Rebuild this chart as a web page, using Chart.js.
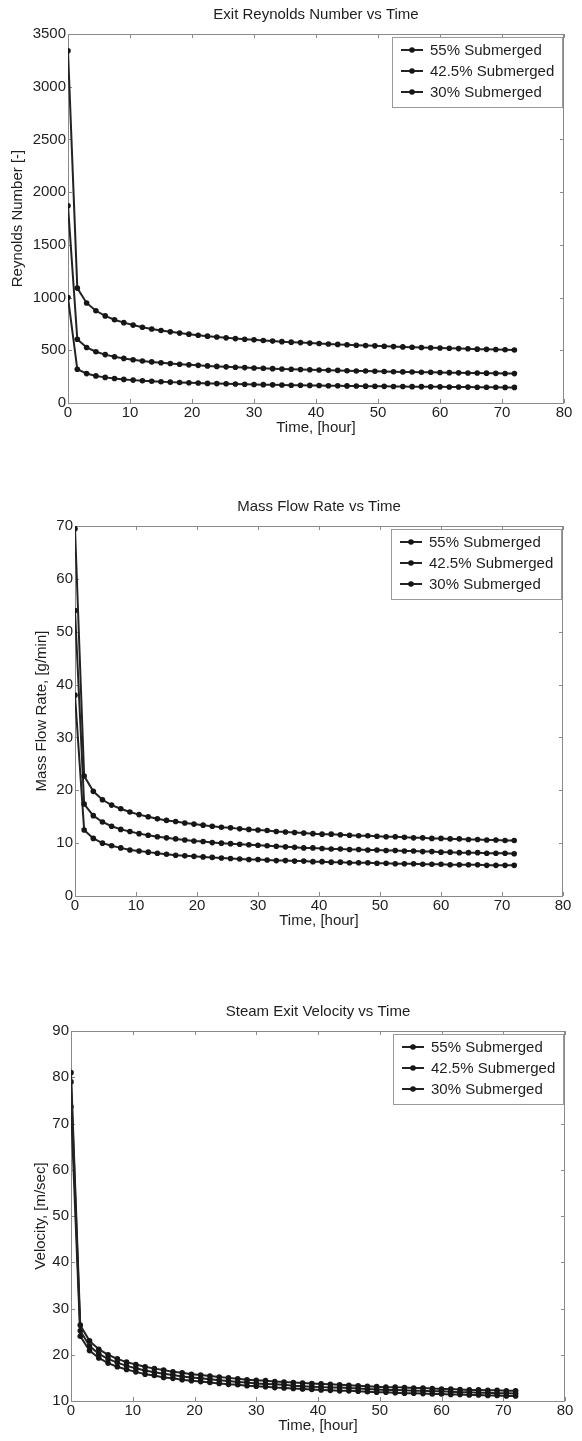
<!DOCTYPE html>
<html>
<head>
<meta charset="utf-8">
<title>Steam exit charts</title>
<script src="https://cdn.jsdelivr.net/npm/chart.js@4.4.1/dist/chart.umd.min.js"></script>
<style>
  html, body { margin: 0; padding: 0; background: #fff; }
  body { width: 582px; height: 1441px; position: relative; overflow: hidden; }
  .plot { position: absolute; left: 0; }
</style>
</head>
<body>
<div class="plot" style="top:0px"><canvas id="reynoldsChart" width="582" height="480"></canvas></div>
<div class="plot" style="top:480px"><canvas id="massFlowChart" width="582" height="480"></canvas></div>
<div class="plot" style="top:960px"><canvas id="velocityChart" width="582" height="481"></canvas></div>

<script>
// Time samples (every 1.5 hours)
const timeHours = [0, 1.5, 3, 4.5, 6, 7.5, 9, 10.5, 12, 13.5, 15, 16.5, 18, 19.5, 21, 22.5, 24, 25.5, 27, 28.5,
  30, 31.5, 33, 34.5, 36, 37.5, 39, 40.5, 42, 43.5, 45, 46.5, 48, 49.5, 51, 52.5, 54, 55.5, 57, 58.5,
  60, 61.5, 63, 64.5, 66, 67.5, 69, 70.5, 72];
const seriesLabels = ["55% Submerged", "42.5% Submerged", "30% Submerged"];

// Exit Reynolds number [-]
const reynolds55 = [3340, 1090, 949, 875, 826, 790, 762, 739, 719, 702, 688, 675, 663, 653, 643, 634, 626, 618, 611, 605,
  599, 593, 587, 582, 577, 573, 568, 564, 560, 556, 552, 548, 545, 542, 538, 535, 532, 529, 527, 524,
  521, 519, 516, 514, 511, 509, 507, 505, 503];
const reynolds425 = [1870, 605, 527, 486, 459, 439, 423, 410, 399, 390, 382, 374, 368, 362, 357, 352, 347, 343, 339, 336,
  332, 329, 326, 323, 320, 318, 315, 313, 311, 309, 306, 304, 303, 301, 299, 297, 295, 294, 292, 291,
  289, 288, 286, 285, 284, 283, 281, 280, 279];
const reynolds30 = [1000, 320, 279, 257, 243, 232, 224, 217, 211, 206, 202, 198, 195, 192, 189, 186, 184, 182, 180, 178,
  176, 174, 172, 171, 169, 168, 167, 166, 164, 163, 162, 161, 160, 159, 158, 157, 156, 155, 155, 154,
  153, 152, 152, 151, 150, 149, 149, 148, 148];

// Mass flow rate [g/min]
const massFlow55 = [69.5, 22.7, 19.8, 18.2, 17.2, 16.5, 15.9, 15.4, 15.0, 14.6, 14.3, 14.1, 13.8, 13.6, 13.4, 13.2, 13.0, 12.9, 12.7, 12.6,
  12.5, 12.4, 12.2, 12.1, 12.0, 11.9, 11.8, 11.7, 11.7, 11.6, 11.5, 11.4, 11.4, 11.3, 11.2, 11.2, 11.1, 11.0, 11.0, 10.9,
  10.9, 10.8, 10.8, 10.7, 10.7, 10.6, 10.6, 10.5, 10.5];
const massFlow425 = [54, 17.4, 15.2, 14.0, 13.2, 12.6, 12.2, 11.8, 11.5, 11.2, 11.0, 10.8, 10.6, 10.4, 10.3, 10.1, 10.0, 9.9, 9.8, 9.7,
  9.6, 9.5, 9.4, 9.3, 9.2, 9.1, 9.1, 9.0, 8.9, 8.9, 8.8, 8.8, 8.7, 8.7, 8.6, 8.6, 8.5, 8.5, 8.4, 8.4,
  8.3, 8.3, 8.2, 8.2, 8.2, 8.1, 8.1, 8.1, 8.0];
const massFlow30 = [38, 12.5, 10.9, 10.0, 9.5, 9.1, 8.7, 8.5, 8.3, 8.1, 7.9, 7.7, 7.6, 7.5, 7.4, 7.3, 7.2, 7.1, 7.0, 6.9,
  6.9, 6.8, 6.7, 6.7, 6.6, 6.6, 6.5, 6.5, 6.4, 6.4, 6.3, 6.3, 6.3, 6.2, 6.2, 6.1, 6.1, 6.1, 6.0, 6.0,
  6.0, 5.9, 5.9, 5.9, 5.9, 5.8, 5.8, 5.8, 5.8];

// Steam exit velocity [m/sec]
const velocity55 = [81, 26.4, 23.0, 21.2, 20.0, 19.1, 18.4, 17.9, 17.4, 17.0, 16.7, 16.3, 16.1, 15.8, 15.6, 15.4, 15.2, 15.0, 14.8, 14.6,
  14.5, 14.4, 14.2, 14.1, 14.0, 13.9, 13.8, 13.7, 13.6, 13.5, 13.4, 13.3, 13.2, 13.1, 13.0, 13.0, 12.9, 12.8, 12.8, 12.7,
  12.6, 12.6, 12.5, 12.4, 12.4, 12.3, 12.3, 12.2, 12.2];
const velocity425 = [79, 25.2, 21.9, 20.2, 19.1, 18.3, 17.6, 17.1, 16.6, 16.2, 15.9, 15.6, 15.3, 15.1, 14.9, 14.7, 14.5, 14.3, 14.1, 14.0,
  13.8, 13.7, 13.6, 13.5, 13.3, 13.2, 13.1, 13.0, 12.9, 12.9, 12.8, 12.7, 12.6, 12.5, 12.4, 12.4, 12.3, 12.2, 12.2, 12.1,
  12.1, 12.0, 11.9, 11.9, 11.8, 11.8, 11.7, 11.7, 11.6];
const velocity30 = [73.6, 24.0, 20.9, 19.3, 18.2, 17.4, 16.8, 16.3, 15.8, 15.5, 15.1, 14.9, 14.6, 14.4, 14.2, 14.0, 13.8, 13.6, 13.5, 13.3,
  13.2, 13.1, 12.9, 12.8, 12.7, 12.6, 12.5, 12.4, 12.3, 12.2, 12.2, 12.1, 12.0, 11.9, 11.9, 11.8, 11.7, 11.7, 11.6, 11.5,
  11.5, 11.4, 11.4, 11.3, 11.3, 11.2, 11.2, 11.1, 11.1];

// Tick labels
const timeTicks = [0, 10, 20, 30, 40, 50, 60, 70, 80];
const reynoldsTicks = [0, 500, 1000, 1500, 2000, 2500, 3000, 3500];
const massFlowTicks = [0, 10, 20, 30, 40, 50, 60, 70];
const velocityTicks = [10, 20, 30, 40, 50, 60, 70, 80, 90];

const FONT = '"Liberation Sans", Arial, Helvetica, sans-serif';
Chart.defaults.font.family = FONT;
Chart.defaults.font.size = 15;
Chart.defaults.color = "#1e1e1e";

const lineColor = "#232323";

// box, inward ticks, title and legend the way MATLAB draws them
const matlabAxes = {
  id: "matlabAxes",
  beforeDatasetsDraw(chart) {
    const { ctx, chartArea: a, scales } = chart;
    ctx.save();
    ctx.strokeStyle = "#8a8a8a";
    ctx.lineWidth = 1;
    ctx.strokeRect(a.left + 0.5, a.top + 0.5, a.right - a.left - 1, a.bottom - a.top);
    ctx.beginPath();
    scales.x.ticks.forEach((t) => {
      const px = Math.round(scales.x.getPixelForValue(t.value)) + 0.5;
      ctx.moveTo(px, a.bottom); ctx.lineTo(px, a.bottom - 4);
      ctx.moveTo(px, a.top); ctx.lineTo(px, a.top + 4);
    });
    scales.y.ticks.forEach((t) => {
      const py = Math.round(scales.y.getPixelForValue(t.value)) + 0.5;
      ctx.moveTo(a.left, py); ctx.lineTo(a.left + 4, py);
      ctx.moveTo(a.right, py); ctx.lineTo(a.right - 4, py);
    });
    ctx.stroke();
    ctx.restore();
  },
  afterDraw(chart, args, opts) {
    const { ctx, chartArea: a } = chart;
    ctx.save();
    // title
    ctx.fillStyle = "#1e1e1e";
    ctx.font = "15px " + FONT;
    ctx.textAlign = "center";
    ctx.textBaseline = "middle";
    ctx.fillText(opts.title, (a.left + a.right) / 2, a.top - 19);

    // legend
    const w = 170, h = 70;
    const x0 = a.right - w - 2, y0 = a.top + 3;
    ctx.fillStyle = "#fff";
    ctx.fillRect(x0, y0, w, h);
    ctx.strokeStyle = "#9a9a9a";
    ctx.lineWidth = 1;
    ctx.strokeRect(x0 + 0.5, y0 + 0.5, w, h);
    ctx.textAlign = "left";
    chart.data.datasets.forEach((ds, i) => {
      const y = y0 + 13 + i * 21;
      ctx.strokeStyle = ds.borderColor;
      ctx.lineWidth = 2;
      ctx.beginPath();
      ctx.moveTo(x0 + 9, y);
      ctx.lineTo(x0 + 31, y);
      ctx.stroke();
      ctx.fillStyle = ds.pointBackgroundColor;
      ctx.beginPath();
      ctx.arc(x0 + 20, y, 2.8, 0, Math.PI * 2);
      ctx.fill();
      ctx.fillStyle = "#1e1e1e";
      ctx.fillText(ds.label, x0 + 38, y + 1);
    });
    ctx.restore();
  }
};

function toPoints(values) {
  return timeHours.map((t, i) => ({ x: t, y: values[i] }));
}

const plainNumber = (v) => String(v);

function makeChart(id, cfg) {
  const canvas = document.getElementById(id);
  const H = canvas.height;
  const xHeight = 34;
  const datasets = cfg.series.map((vals, i) => ({
    label: seriesLabels[i],
    data: toPoints(vals),
    borderColor: lineColor,
    borderWidth: 2,
    pointRadius: 2.8,
    pointBackgroundColor: "#161616",
    pointBorderWidth: 0,
    pointHoverRadius: 2.8,
    tension: 0,
    fill: false
  }));

  return new Chart(canvas.getContext("2d"), {
    type: "line",
    data: { datasets },
    options: {
      responsive: false,
      animation: false,
      events: [],
      layout: {
        padding: { top: cfg.top, right: 582 - cfg.right, bottom: H - cfg.bottom - xHeight, left: 0 }
      },
      plugins: {
        legend: { display: false },
        tooltip: { enabled: false },
        matlabAxes: { title: cfg.title }
      },
      scales: {
        x: {
          type: "linear",
          min: 0,
          max: 80,
          afterBuildTicks: (scale) => { scale.ticks = timeTicks.map((v) => ({ value: v })); },
          afterFit: (scale) => { scale.height = xHeight; },
          grid: { display: false, drawTicks: false },
          border: { display: false },
          ticks: { padding: 1, maxRotation: 0, color: "#1e1e1e", callback: plainNumber },
          title: { display: true, text: "Time, [hour]", padding: 0, color: "#1e1e1e" }
        },
        y: {
          type: "linear",
          min: cfg.ticks[0],
          max: cfg.ticks[cfg.ticks.length - 1],
          afterBuildTicks: (scale) => { scale.ticks = cfg.ticks.map((v) => ({ value: v })); },
          afterFit: (scale) => { scale.width = cfg.left; },
          grid: { display: false, drawTicks: false },
          border: { display: false },
          ticks: { padding: 2, color: "#1e1e1e", callback: plainNumber },
          title: { display: true, text: cfg.yTitle, padding: { top: cfg.yTitleX - 9, bottom: 0 }, color: "#1e1e1e" }
        }
      }
    },
    plugins: [matlabAxes]
  });
}

makeChart("reynoldsChart", {
  title: "Exit Reynolds Number vs Time",
  yTitle: "Reynolds Number [-]",
  series: [reynolds55, reynolds425, reynolds30],
  ticks: reynoldsTicks,
  top: 34, bottom: 403, left: 68, right: 564, yTitleX: 18
});

makeChart("massFlowChart", {
  title: "Mass Flow Rate vs Time",
  yTitle: "Mass Flow Rate, [g/min]",
  series: [massFlow55, massFlow425, massFlow30],
  ticks: massFlowTicks,
  top: 46, bottom: 416, left: 75, right: 563, yTitleX: 42
});

makeChart("velocityChart", {
  title: "Steam Exit Velocity vs Time",
  yTitle: "Velocity, [m/sec]",
  series: [velocity55, velocity425, velocity30],
  ticks: velocityTicks,
  top: 71, bottom: 441, left: 71, right: 565, yTitleX: 41
});
</script>
</body>
</html>
